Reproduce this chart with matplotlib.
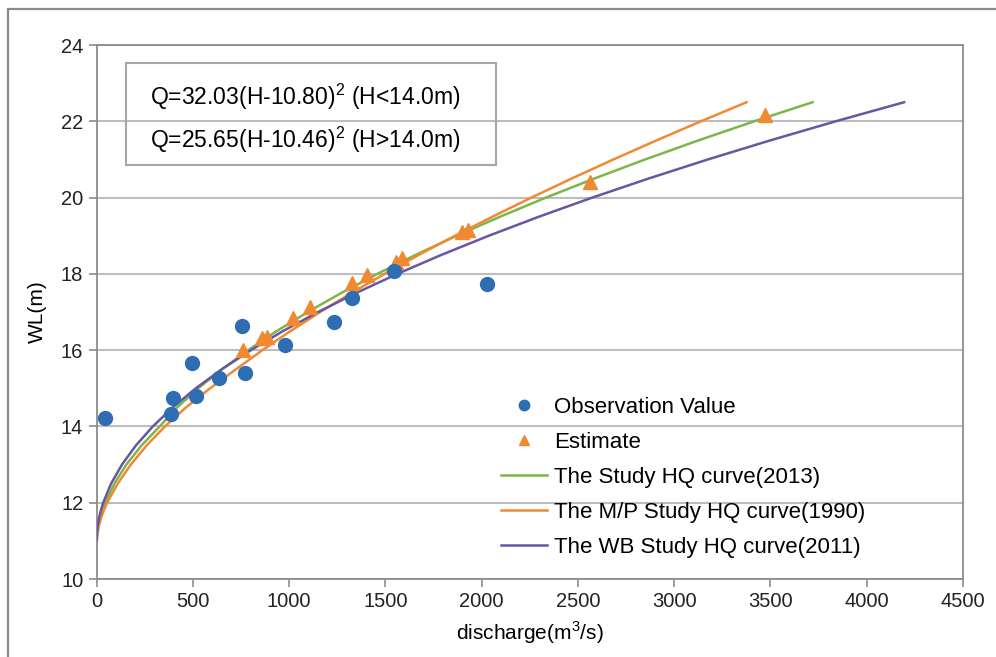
import matplotlib.pyplot as plt
from matplotlib.patches import Rectangle

# Observation values (discharge m3/s, water level m)
obs_q = [44, 385, 399, 497, 517, 638, 754, 773, 979, 1235, 1325, 1545, 2028]
obs_h = [14.21, 14.33, 14.74, 15.67, 14.80, 15.28, 16.64, 15.41, 16.13, 16.75, 17.36, 18.08, 17.73]

# Estimate values
est_q = [762, 858, 884, 1022, 1109, 1325, 1403, 1555, 1585, 1896, 1930, 2562, 3471]
est_h = [16.00, 16.31, 16.35, 16.83, 17.14, 17.75, 17.97, 18.32, 18.41, 19.10, 19.15, 20.42, 22.16]

# HQ curves
curve_h = [11.0, 11.2, 11.4, 11.6, 11.8, 12.0, 12.5, 13.0, 13.5, 14.0, 14.5, 15.0, 15.5, 16.0,
           16.5, 17.0, 17.5, 18.0, 18.5, 19.0, 19.5, 20.0, 20.5, 21.0, 21.5, 22.0, 22.5]
study_q = [1.3, 5.1, 11.5, 20.5, 32.0, 46.1, 92.6, 155.0, 233.5, 328.0, 418.7, 528.7, 651.6, 787.2,
           935.8, 1097.1, 1271.3, 1458.3, 1658.0, 1870.7, 2096.2, 2334.4, 2585.6, 2849.5, 3126.2,
           3415.8, 3718.3]
mp_q = [0.5, 4.0, 12.0, 24.0, 38.0, 55.0, 110.0, 178.0, 260.0, 355.0, 465.0, 590.0, 724.8, 861.4,
        1007.1, 1161.7, 1324.7, 1495.6, 1674.8, 1861.9, 2056.6, 2258.3, 2468.0, 2684.5, 2908.3,
        3139.0, 3375.7]
wb_q = [0.1, 2.0, 6.4, 13.3, 22.7, 34.7, 75.5, 132.1, 204.4, 292.5, 396.2, 515.7, 650.9, 801.8,
        968.4, 1150.8, 1348.9, 1562.7, 1792.2, 2037.4, 2298.3, 2575.0, 2867.4, 3175.5, 3499.4,
        3838.9, 4194.2]

x_ticks = [0, 500, 1000, 1500, 2000, 2500, 3000, 3500, 4000, 4500]
y_ticks = [10, 12, 14, 16, 18, 20, 22, 24]

formula_1 = 'Q=32.03(H-10.80)$^2$ (H<14.0m)'
formula_2 = 'Q=25.65(H-10.46)$^2$ (H>14.0m)'

plt.rcParams['font.family'] = ['Liberation Sans', 'DejaVu Sans']
plt.rcParams['mathtext.fontset'] = 'custom'
plt.rcParams['mathtext.rm'] = 'Liberation Sans'

fig = plt.figure(figsize=(9.96, 6.57), dpi=100)
ax = fig.add_axes([0.0969, 0.1187, 0.8700, 0.8128])

grey = '#8c8c8c'

ax.plot(study_q, curve_h, color='#7db648', lw=1.8, label='The Study HQ curve(2013)', zorder=3)
ax.plot(mp_q, curve_h, color='#f08a32', lw=1.8, label='The M/P Study HQ curve(1990)', zorder=3)
ax.plot(wb_q, curve_h, color='#6b55a3', lw=1.8, label='The WB Study HQ curve(2011)', zorder=3)
ax.plot(obs_q, obs_h, 'o', color='#2f6db3', ms=10, label='Observation Value', zorder=5)
ax.plot(est_q, est_h, '^', color='#f08a32', ms=10, label='Estimate', zorder=4)

ax.set_xlim(0, 4500)
ax.set_ylim(10, 24)
ax.set_xticks(x_ticks)
ax.set_yticks(y_ticks)
ax.tick_params(labelsize=14.5, length=6, width=1.2, color=grey, labelcolor='#222222')
ax.yaxis.grid(True, color='#bdbdbd', lw=1.5)
ax.set_axisbelow(True)
for sp in ax.spines.values():
    sp.set_color(grey)
    sp.set_linewidth(1.3)

ax.set_xlabel('discharge(m$^3$/s)', fontsize=15, labelpad=6)
ax.set_ylabel('WL(m)', fontsize=15, labelpad=10)

# Formula box
box = Rectangle((126 / 996, 1 - 165 / 657), 370 / 996, 102 / 657, transform=fig.transFigure,
                fill=False, edgecolor='#a6a6a6', lw=1.5, zorder=6)
fig.add_artist(box)
fig.text(150 / 996, 1 - 97 / 657, formula_1, fontsize=16.5, va='center', ha='left')
fig.text(150 / 996, 1 - 140 / 657, formula_2, fontsize=16.5, va='center', ha='left')

handles, labels = ax.get_legend_handles_labels()
order = [3, 4, 0, 1, 2]
leg = ax.legend([handles[i] for i in order], [labels[i] for i in order],
                loc='upper left', bbox_to_anchor=(0.456, 0.357), frameon=False,
                fontsize=16, handlelength=2.1, handletextpad=0.3, labelspacing=0.63,
                markerscale=0.75, borderaxespad=0)

# Outer frame of the picture
frame = Rectangle((8 / 996, -0.02), 1.1, 1 - 9 / 657 + 0.02, transform=fig.transFigure,
                  fill=False, edgecolor='#8a8a8a', lw=1.6)
fig.add_artist(frame)

plt.savefig('out.png', dpi=100)
